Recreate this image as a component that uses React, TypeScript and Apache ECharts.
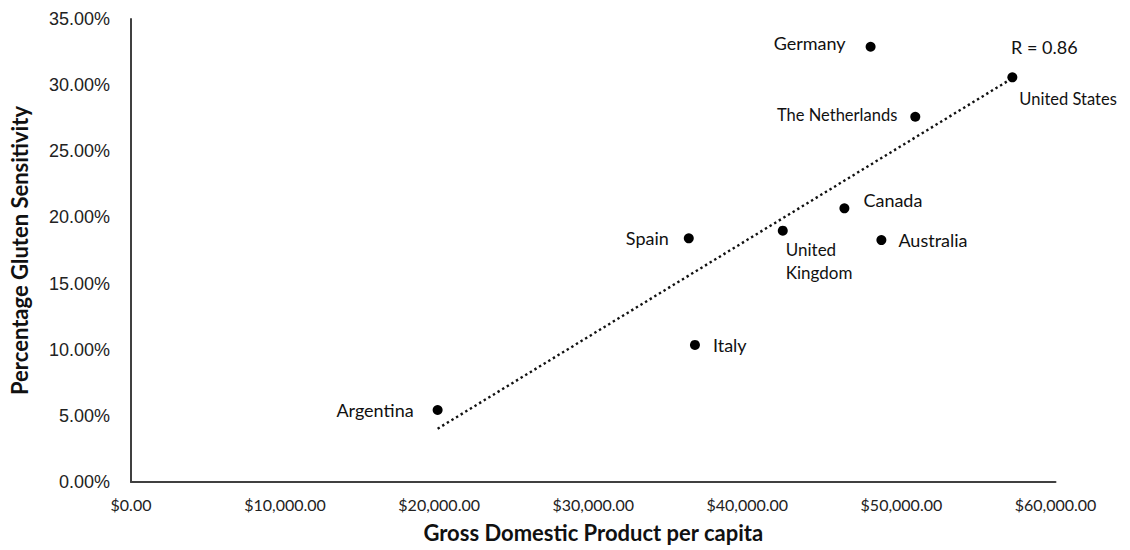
import React, { useEffect, useRef } from "react";
import * as echarts from "echarts";

// ---- data ----
const countries = [
  "Argentina",
  "Spain",
  "Italy",
  "United Kingdom",
  "Canada",
  "Australia",
  "Germany",
  "The Netherlands",
  "United States",
];
const gdpPerCapita = [19900, 36200, 36600, 42300, 46300, 48700, 48000, 50900, 57200];
const glutenSensitivity = [5.44, 18.42, 10.36, 19.0, 20.69, 18.29, 32.9, 27.61, 30.59];

const xAxisTitle = "Gross Domestic Product per capita";
const yAxisTitle = "Percentage Gluten Sensitivity";

// ---- label placement (style only) ----
const FONT = "Lato, 'Open Sans', sans-serif";
const labelPlacement: Record<string, any> = {
  Argentina: { position: "left", distance: 19, fontSize: 18 },
  Spain: { position: "left", distance: 15, fontSize: 18 },
  Italy: { position: "right", distance: 13, fontSize: 18 },
  "United Kingdom": {
    position: "bottom",
    distance: 2,
    align: "left",
    offset: [3, 0],
    fontSize: 17,
    lineHeight: 23,
    formatter: "United\nKingdom",
  },
  Canada: { position: "right", distance: 14, offset: [0, -8], fontSize: 18 },
  Australia: { position: "right", distance: 12, fontSize: 18 },
  Germany: { position: "left", distance: 20, offset: [0, -4], fontSize: 18 },
  "The Netherlands": { position: "left", distance: 13, offset: [0, -2], fontSize: 16.5 },
  "United States": {
    position: "bottom",
    distance: 8,
    align: "left",
    offset: [7, 0],
    fontSize: 16.5,
  },
};

function linearFit(xs: number[], ys: number[]) {
  const n = xs.length;
  const mx = xs.reduce((a, b) => a + b, 0) / n;
  const my = ys.reduce((a, b) => a + b, 0) / n;
  let sxy = 0,
    sxx = 0,
    syy = 0;
  for (let i = 0; i < n; i++) {
    sxy += (xs[i] - mx) * (ys[i] - my);
    sxx += (xs[i] - mx) ** 2;
    syy += (ys[i] - my) ** 2;
  }
  const slope = sxy / sxx;
  const intercept = my - slope * mx;
  const r = sxy / Math.sqrt(sxx * syy);
  return { slope, intercept, r };
}

function fmtMoney(v: number) {
  const s = Math.round(v).toString().replace(/\B(?=(\d{3})+(?!\d))/g, ",");
  return "$" + s + ".00";
}

export default function App() {
  const ref = useRef<HTMLDivElement>(null);

  useEffect(() => {
    if (!ref.current) return;
    const chart = echarts.init(ref.current, undefined, { renderer: "svg" });

    const fit = linearFit(gdpPerCapita, glutenSensitivity);
    const minX = Math.min(...gdpPerCapita);
    const maxX = Math.max(...gdpPerCapita);
    const trend = [
      [minX, fit.intercept + fit.slope * minX],
      [maxX, fit.intercept + fit.slope * maxX],
    ];

    const points = countries.map((name, i) => {
      const p = labelPlacement[name] || {};
      return {
        name,
        value: [gdpPerCapita[i], glutenSensitivity[i]],
        label: {
          show: true,
          position: p.position,
          distance: p.distance,
          offset: p.offset || [0, 0],
          align: p.align,
          fontSize: p.fontSize,
          lineHeight: p.lineHeight,
          fontFamily: FONT,
          color: "#111",
          formatter: p.formatter || "{b}",
        },
      };
    });

    chart.setOption({
      animation: false,
      backgroundColor: "#ffffff",
      grid: { left: 129.5, right: 74.5, top: 19, bottom: 68 },
      xAxis: {
        type: "value",
        min: 0,
        max: 60000,
        interval: 10000,
        name: xAxisTitle,
        nameLocation: "middle",
        nameGap: 39,
        nameTextStyle: {
          fontFamily: FONT,
          fontWeight: "bold",
          fontSize: 22,
          color: "#111",
        },
        axisLine: { show: true, lineStyle: { color: "#404040", width: 2 } },
        axisTick: { show: false },
        splitLine: { show: false },
        axisLabel: {
          margin: 14,
          fontFamily: FONT,
          fontSize: 16,
          color: "#222",
          formatter: (v: number) => fmtMoney(v),
        },
      },
      yAxis: {
        type: "value",
        min: 0,
        max: 35,
        interval: 5,
        name: yAxisTitle,
        nameLocation: "middle",
        nameGap: 101,
        nameTextStyle: {
          fontFamily: FONT,
          fontWeight: "bold",
          fontSize: 22,
          color: "#111",
        },
        axisLine: { show: true, lineStyle: { color: "#404040", width: 2 } },
        axisTick: { show: false },
        splitLine: { show: false },
        axisLabel: {
          margin: 21,
          fontFamily: "'Liberation Sans', Arial, sans-serif",
          fontSize: 18,
          color: "#222",
          formatter: (v: number) => v.toFixed(2) + "%",
        },
      },
      series: [
        {
          type: "line",
          data: trend,
          symbol: "none",
          silent: true,
          lineStyle: { color: "#111", width: 2.4, type: [2.4, 3] },
          z: 1,
        },
        {
          type: "scatter",
          data: [
            {
              value: trend[1],
              label: {
                show: true,
                position: "top",
                distance: 0,
                offset: [32, -22],
                formatter: "R = " + fit.r.toFixed(2),
                fontFamily: FONT,
                fontSize: 18,
                color: "#111",
                opacity: 1,
              },
            },
          ],
          symbolSize: 1,
          itemStyle: { color: "#ffffff", opacity: 1 },
          silent: true,
          z: 0,
        },
        {
          type: "scatter",
          data: points,
          symbol: "circle",
          symbolSize: 10,
          itemStyle: { color: "#000", opacity: 1 },
          z: 3,
        },
      ],
    });

    return () => chart.dispose();
  }, []);

  return (
    <div
      ref={ref}
      style={{ position: "fixed", left: 0, top: 0, width: 1130, height: 550 }}
    />
  );
}
